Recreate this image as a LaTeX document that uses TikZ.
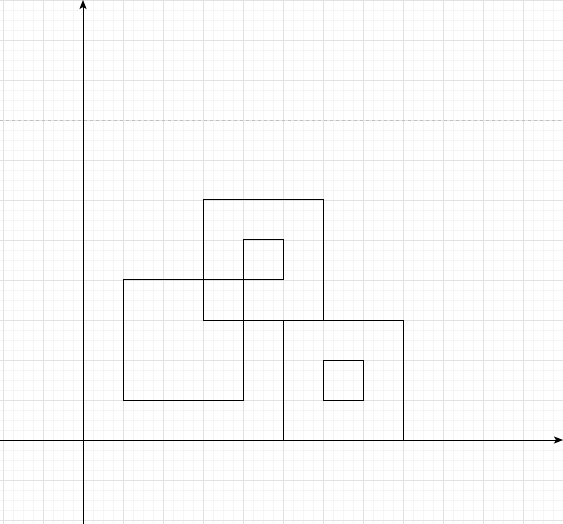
\documentclass[tikz,border=0pt]{standalone}
\usepackage{amsmath}
\usetikzlibrary{arrows.meta}

\definecolor{minorgrid}{HTML}{F5F5F5}
\definecolor{majorgrid}{HTML}{E2E2E2}
\definecolor{guide}{HTML}{C0C0C0}

\begin{document}
\begin{tikzpicture}[x=1pt, y=-1pt, >={Stealth[length=9pt, width=7pt, inset=2pt]}]
    \useasboundingbox (0,0) rectangle (563,524);

    % grid
    \foreach \gx in {3,13,...,563} \draw[minorgrid, line width=0.8pt] (\gx,0) -- (\gx,524);
    \foreach \gy in {0,10,...,524} \draw[minorgrid, line width=0.8pt] (0,\gy) -- (563,\gy);
    \foreach \gx in {3,43,...,563} \draw[majorgrid, line width=0.8pt] (\gx,0) -- (\gx,524);
    \foreach \gy in {0,40,...,524} \draw[majorgrid, line width=0.8pt] (0,\gy) -- (563,\gy);

    \draw[guide, dashed, line width=0.8pt] (0,120) -- (563,120);

    % axes
    \coordinate (xl) at (0,440);
    \coordinate (xr) at (563,440);
    \coordinate (yb) at (83,524);
    \coordinate (yt) at (83,0);
    \draw[->, line width=1pt] (xl) -- (xr);
    \draw[->, line width=1pt] (yb) -- (yt);

    % squares
    \draw[line width=1pt] (203,200) rectangle (323,320);
    \draw[line width=1pt] (243,240) rectangle (283,280);
    \draw[line width=1pt] (123,280) rectangle (243,400);
    \draw[line width=1pt] (283,320) rectangle (403,440);
    \draw[line width=1pt] (323,360) rectangle (363,400);
\end{tikzpicture}
\end{document}
